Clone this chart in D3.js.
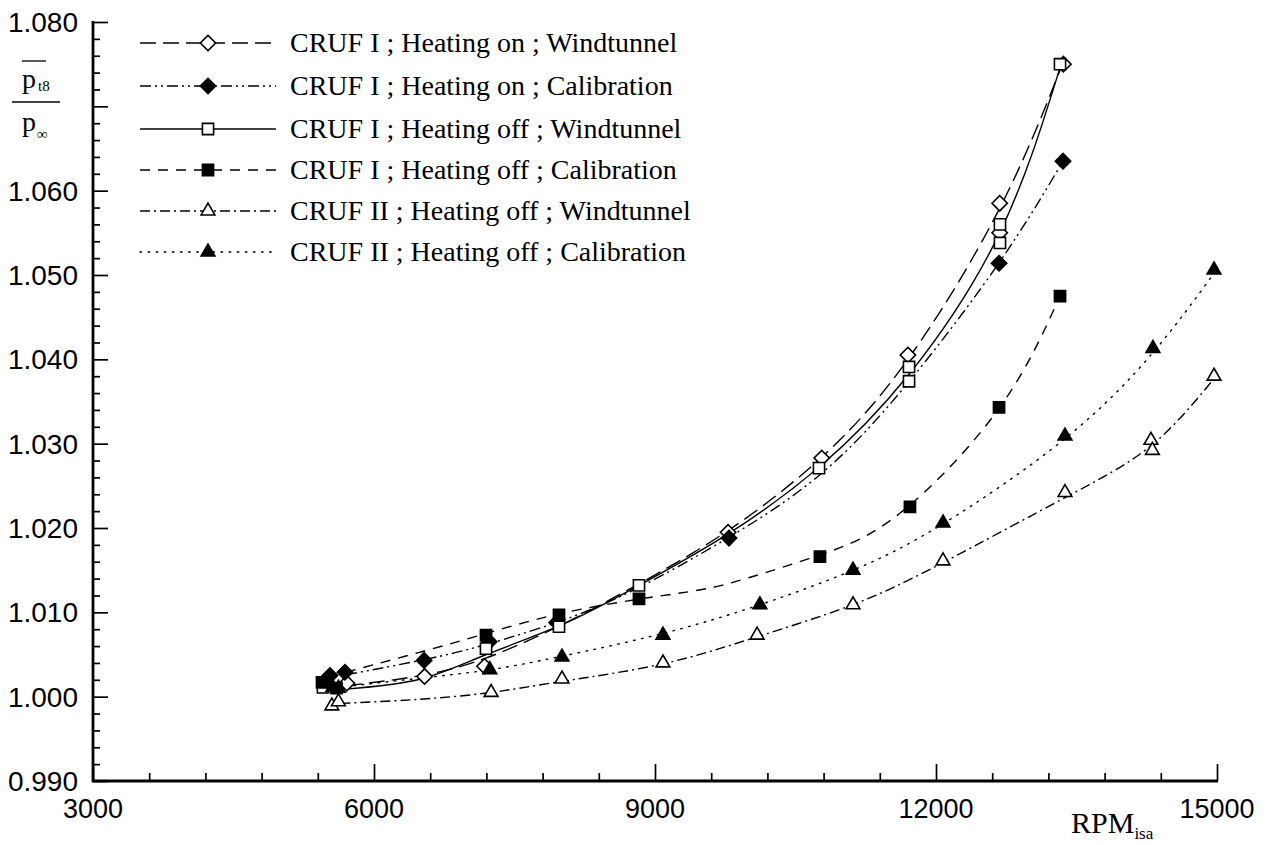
<!DOCTYPE html>
<html><head><meta charset="utf-8">
<script src="https://cdn.jsdelivr.net/npm/d3@7"></script>
<style>body{margin:0;background:#fff}svg{display:block}</style>
</head><body>
<svg id="c" width="1273" height="845"></svg>
<script>
// ---- data ----
const rpmTicks = [3000, 6000, 9000, 12000, 15000];
const ratioTicks = [0.990, 1.000, 1.010, 1.020, 1.030, 1.040, 1.050, 1.060, 1.070, 1.080];
const ratioLabels = ["0.990","1.000","1.010","1.020","1.030","1.040","1.050","1.060","","1.080"];
const seriesNames = [
  "CRUF I ; Heating on ; Windtunnel",
  "CRUF I ; Heating on ; Calibration",
  "CRUF I ; Heating off ; Windtunnel",
  "CRUF I ; Heating off ; Calibration",
  "CRUF II ; Heating off ; Windtunnel",
  "CRUF II ; Heating off ; Calibration"
];
// fitted curves
const curveOnWT  = [[5700,1.0013],[6500,1.0025],[7200,1.0046],[8000,1.0085],[8800,1.0132],[9780,1.0197],[10780,1.0284],[11700,1.0400],[12670,1.0577],[13350,1.0750]];
const curveOnCal = [[5700,1.0026],[6540,1.0044],[7200,1.0062],[8000,1.0090],[8800,1.0128],[9790,1.0189],[10780,1.0265],[11700,1.0372],[12670,1.0514],[13356,1.0635]];
const curveOffWT = [[5700,1.0009],[6500,1.0021],[7200,1.0050],[8000,1.0085],[8830,1.0132],[9780,1.0193],[10750,1.0272],[11710,1.0382],[12680,1.0550],[13330,1.0748]];
const curveOffCal= [[5700,1.0029],[6500,1.0053],[7200,1.0075],[7970,1.0098],[8850,1.0116],[9500,1.0127],[10000,1.0141],[10760,1.0168],[11620,1.0218],[12673,1.0342],[13324,1.0475]];
const curveIIWT  = [[5640,0.9992],[6500,0.9997],[7250,1.0005],[8000,1.0018],[9085,1.0039],[10090,1.0071],[11110,1.0109],[12075,1.0159],[13377,1.0236],[14300,1.0298],[14968,1.0377]];
const curveIICal = [[5700,1.0012],[6500,1.0022],[7240,1.0032],[8007,1.0048],[9085,1.0075],[10120,1.0109],[11114,1.0150],[12075,1.0205],[13377,1.0306],[14316,1.0408],[14968,1.0502]];
// measured points
const ptsOnWT  = [[5710,1.0016],[6540,1.0024],[7180,1.0036],[9780,1.0195],[10780,1.0283],[11700,1.0405],[12680,1.0550],[12680,1.0585],[13360,1.0750]];
const ptsOnCal = [[5530,1.0025],[5690,1.0029],[6535,1.0043],[7230,1.0065],[7950,1.0088],[9790,1.0188],[12673,1.0514],[13356,1.0635]];
const ptsOffWT = [[5455,1.0011],[5600,1.0010],[7196,1.0057],[7975,1.0083],[8829,1.0132],[10751,1.0271],[11712,1.0374],[11712,1.0391],[12683,1.0538],[12683,1.0560],[13324,1.0750]];
const ptsOffCal= [[5445,1.0017],[7196,1.0073],[7975,1.0097],[8829,1.0116],[10761,1.0166],[11722,1.0225],[12673,1.0343],[13324,1.0475]];
const ptsIIWT  = [[5550,0.9989],[5620,0.9994],[7250,1.0005],[8007,1.0021],[9085,1.0040],[10090,1.0073],[11114,1.0109],[12075,1.0161],[13377,1.0242],[14295,1.0304],[14310,1.0292],[14968,1.0380]];
const ptsIICal = [[5560,1.0011],[5620,1.0010],[7236,1.0032],[8007,1.0047],[9085,1.0073],[10120,1.0109],[11114,1.0150],[12075,1.0206],[13377,1.0309],[14316,1.0413],[14968,1.0506]];

// ---- styling ----
const styles = [
  {curve: curveOnWT,  pts: ptsOnWT,  dash:"16,7",          sym:"diamond",  fill:"#fff"},
  {curve: curveOnCal, pts: ptsOnCal, dash:"11,4,2,4,2,4",  sym:"diamond",  fill:"#000"},
  {curve: curveOffWT, pts: ptsOffWT, dash:null,            sym:"square",   fill:"#fff"},
  {curve: curveOffCal,pts: ptsOffCal,dash:"10,8",          sym:"square",   fill:"#000"},
  {curve: curveIIWT,  pts: ptsIIWT,  dash:"10,4,2,4",      sym:"triangle", fill:"#fff"},
  {curve: curveIICal, pts: ptsIICal, dash:"1.6,6.5",       sym:"triangle", fill:"#000"}
];

const svg = d3.select("#c");
const x = d3.scaleLinear().domain([3000,15000]).range([93,1217]);
const y = d3.scaleLinear().domain([0.990,1.080]).range([781,22]);

const sans = "'Liberation Sans', Arial, Helvetica, sans-serif";
const serif = "'Liberation Serif', 'Times New Roman', serif";

// axes
const gx = svg.append("g").attr("transform","translate(0,781)");
gx.call(d3.axisBottom(x).tickValues(d3.range(3000,15001,600)).tickSize(0).tickFormat(""));
gx.select(".domain").remove();
gx.append("line").attr("x1",x(3000)-1).attr("x2",x(15000)+1).attr("stroke","#000").attr("stroke-width",2.8);
gx.selectAll(".tick").each(function(d){
  const major = rpmTicks.includes(d);
  d3.select(this).select("line").attr("y2", major?-17:-8).attr("stroke","#000").attr("stroke-width",1.7);
});
gx.selectAll(".maj").data(rpmTicks).enter().append("text")
  .attr("x",d=>x(d)).attr("y",37).attr("text-anchor","middle").attr("fill","#000")
  .attr("font-family",sans).attr("font-size",27).text(d=>d);

const gy = svg.append("g").attr("transform","translate(93,0)");
gy.call(d3.axisLeft(y).tickValues(d3.range(0,46).map(i=>0.990+i*0.002)).tickSize(0).tickFormat(""));
gy.select(".domain").remove();
gy.append("line").attr("y1",y(0.990)+1).attr("y2",y(1.080)-1).attr("stroke","#000").attr("stroke-width",2.8);
gy.selectAll(".tick").each(function(d){
  const major = Math.abs(Math.round(d*100)-d*100)<1e-6;
  d3.select(this).select("line").attr("x2", major?15:7).attr("stroke","#000").attr("stroke-width",1.7);
});
gy.selectAll(".lab").data(ratioTicks).enter().append("text")
  .attr("x",-15).attr("y",d=>y(d)+10).attr("text-anchor","end").attr("fill","#000")
  .attr("font-family",sans).attr("font-size",28).text((d,i)=>ratioLabels[i]);

// y title: p̄_t8 / p_∞
const yt = svg.append("g").attr("font-family",serif);
yt.append("line").attr("x1",22).attr("x2",46).attr("y1",61).attr("y2",61).attr("stroke","#000").attr("stroke-width",1.3);
yt.append("text").attr("x",22).attr("y",88).attr("font-size",28).text("p");
yt.append("text").attr("x",38).attr("y",91).attr("font-size",15).text("t8");
yt.append("line").attr("x1",12).attr("x2",60).attr("y1",102).attr("y2",102).attr("stroke","#000").attr("stroke-width",1.3);
yt.append("text").attr("x",22).attr("y",131).attr("font-size",28).text("p");
yt.append("text").attr("x",37).attr("y",139).attr("font-size",15).text("∞");

// x title
const xtg = svg.append("text").attr("x",1071).attr("y",833).attr("font-family",serif).attr("font-size",30);
xtg.append("tspan").text("RPM");
xtg.append("tspan").attr("font-size",17).attr("dy",6).text("isa");

// symbols
const symFor = s => s==="diamond" ? d3.symbol(d3.symbolSquare,118)() : s==="square" ? d3.symbol(d3.symbolSquare,125)() : d3.symbol(d3.symbolTriangle,82)();
const rotFor = s => s==="diamond" ? 45 : 0;

const line = d3.line().x(d=>x(d[0])).y(d=>y(d[1])).curve(d3.curveNatural);

styles.forEach(st=>{
  svg.append("path").attr("d",line(st.curve)).attr("fill","none").attr("stroke","#000")
    .attr("stroke-width",1.4).attr("stroke-dasharray",st.dash).attr("stroke-linecap", st.dash==="1.6,6.5"?"round":"butt");
});
styles.forEach(st=>{
  svg.append("g").selectAll("path").data(st.pts).enter().append("path")
    .attr("d",symFor(st.sym))
    .attr("transform",d=>`translate(${x(d[0])},${y(d[1])}) rotate(${rotFor(st.sym)})`)
    .attr("fill",st.fill).attr("stroke","#000").attr("stroke-width",1.6);
});

// legend
const legRows = [43,86,129,170,211,252];
const lg = svg.append("g");
styles.forEach((st,i)=>{
  const ly = legRows[i];
  lg.append("line").attr("x1",140).attr("x2",276).attr("y1",ly).attr("y2",ly)
    .attr("stroke","#000").attr("stroke-width",1.4).attr("stroke-dasharray",st.dash)
    .attr("stroke-linecap", st.dash==="1.6,6.5"?"round":"butt");
  lg.append("path").attr("d",symFor(st.sym)).attr("transform",`translate(208,${ly}) rotate(${rotFor(st.sym)})`)
    .attr("fill",st.fill).attr("stroke","#000").attr("stroke-width",1.6);
  lg.append("text").attr("x",290).attr("y",ly+9).attr("font-family",serif).attr("font-size",28).text(seriesNames[i]);
});
</script>
</body></html>
